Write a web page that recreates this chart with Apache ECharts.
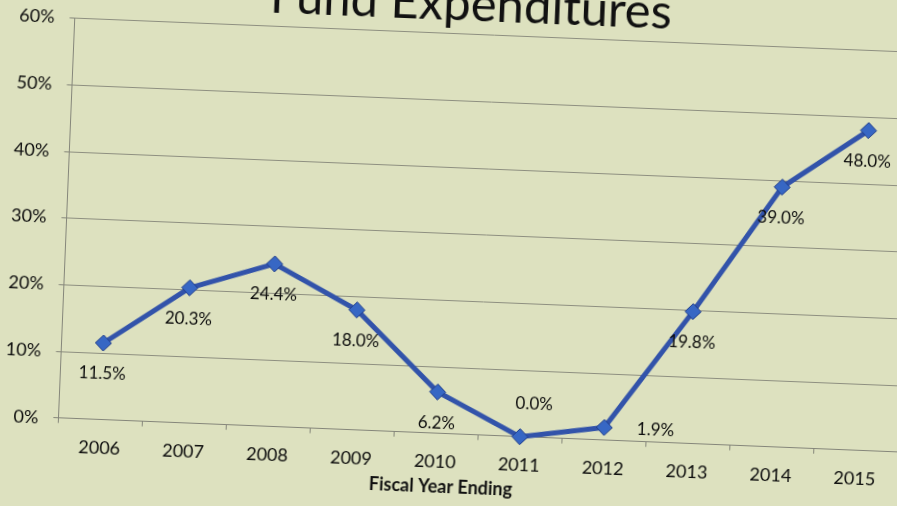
<!DOCTYPE html>
<html>
<head>
<meta charset="utf-8">
<script src="https://cdn.jsdelivr.net/npm/echarts@6/dist/echarts.min.js"></script>
<style>
  html, body { margin: 0; padding: 0; width: 897px; height: 506px; overflow: hidden; background: #dde1bf; }
  #chart { position: absolute; left: -31.5px; top: -37px; width: 960px; height: 580px;
           transform: rotate(2.33deg); transform-origin: 50% 50%; }
</style>
</head>
<body>
<div id="chart"></div>
<script>
const categories = ['2006','2007','2008','2009','2010','2011','2012','2013','2014','2015'];
const values = [11.5, 20.3, 24.4, 18.0, 6.2, 0.0, 1.9, 19.8, 39.0, 48.0];
const yTicks = [0, 10, 20, 30, 40, 50, 60];
const titleText = 'Fund Expenditures';
const xAxisTitle = 'Fiscal Year Ending';

const FONT = 'Lato, "Open Sans", sans-serif';
const labelPos = {
  '2011': { position: 'top', distance: 16, offset: [13, 0] },
  '2012': { position: 'right', distance: 24, offset: [0, 0] }
};

const chart = echarts.init(document.getElementById('chart'));
chart.setOption({
  backgroundColor: '#dde1bf',
  animation: false,
  grid: { left: 96.4, right: 23.8, top: 70.6, bottom: 109.3 },
  xAxis: {
    type: 'category',
    data: categories,
    boundaryGap: true,
    axisLine: { show: true, lineStyle: { color: '#85867a', width: 1 } },
    axisTick: { show: true, length: 5, lineStyle: { color: '#85867a' } },
    axisLabel: { color: '#0d0d0d', fontSize: 18, fontFamily: FONT, margin: 19 }
  },
  yAxis: {
    type: 'value',
    min: yTicks[0],
    max: yTicks[yTicks.length - 1],
    interval: yTicks[1] - yTicks[0],
    axisLine: { show: true, lineStyle: { color: '#85867a', width: 1 } },
    axisTick: { show: true, length: 5, lineStyle: { color: '#85867a' } },
    splitLine: { show: true, lineStyle: { color: '#8e8f80', width: 1 } },
    axisLabel: { color: '#0d0d0d', fontSize: 18, fontFamily: FONT, margin: 20,
      formatter: v => v + '%' }
  },
  graphic: [
    { type: 'text', x: 492, y: 41,
      style: { text: titleText, fill: '#111', font: '49px ' + FONT, textAlign: 'center', textVerticalAlign: 'middle' } },
    { type: 'text', x: 481, y: 524,
      style: { text: xAxisTitle, fill: '#111', font: 'bold 18px ' + FONT, textAlign: 'center', textVerticalAlign: 'middle' } }
  ],
  series: [{
    type: 'line',
    data: values.map((v, i) => {
      const lp = labelPos[categories[i]];
      return lp ? { value: v, label: lp } : { value: v };
    }),
    symbol: 'diamond',
    symbolSize: 16,
    lineStyle: { color: '#3253aa', width: 5 },
    itemStyle: { color: '#3767c4', borderColor: '#1f3c8a', borderWidth: 1 },
    label: {
      show: true, position: 'bottom', distance: 14,
      color: '#0d0d0d', fontSize: 17, fontFamily: FONT,
      formatter: p => p.value.toFixed(1) + '%'
    }
  }]
});
</script>
</body>
</html>
